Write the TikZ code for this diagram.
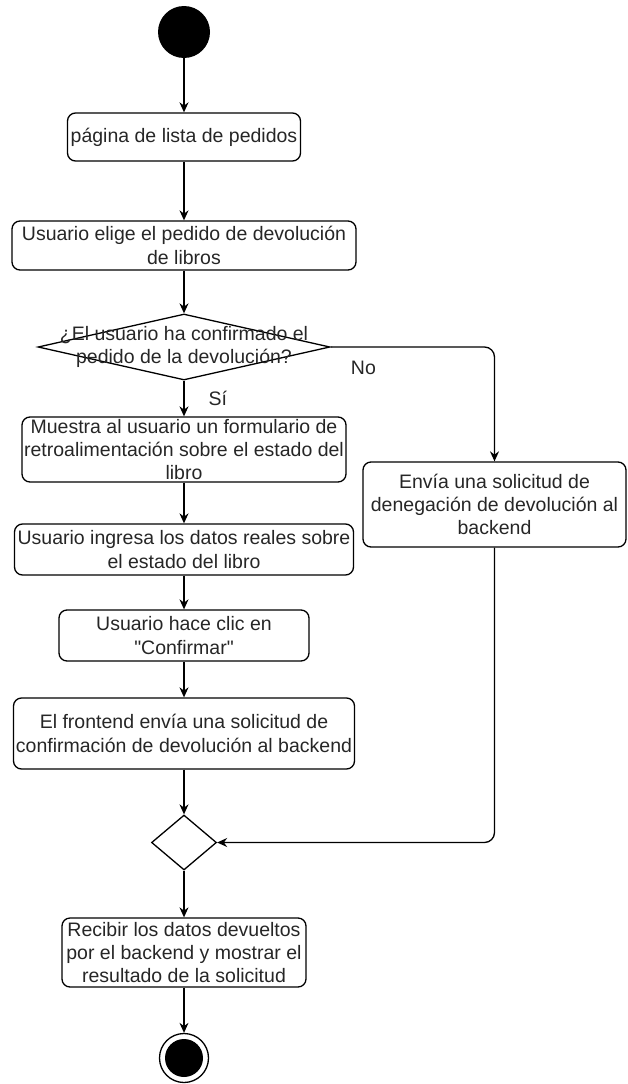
\documentclass[tikz,border=0pt]{standalone}
\usepackage{fontspec}
\setmainfont{Liberation Sans}[Ligatures=TeXOff]
\usetikzlibrary{positioning,arrows.meta,shapes.geometric}

\begin{document}
\begin{tikzpicture}[
  x=1pt, y=-1pt,
  font=\fontsize{19.5}{23.4}\selectfont, >={Stealth[length=10pt,width=9pt]},
  act/.style={draw,rounded corners=8pt,align=center,inner sep=0pt,line width=1.3pt,text=black!85},
  startnode/.style={circle,fill=black,inner sep=0pt,minimum size=52pt},
  endnode/.style={circle,draw,line width=1.3pt,inner sep=0pt,minimum size=49pt,
    path picture={\fill (path picture bounding box.center) circle (19pt);}},
  choice/.style={diamond,draw,line width=1.3pt,inner sep=0pt},
  txt/.style={align=center,inner sep=0pt,text=black!85},
  lbl/.style={inner sep=0pt,text=black!85},
  flow/.style={->,line width=1.3pt},
]
\useasboundingbox (0,0) rectangle (627,1084);
\node[startnode] (start) at (184,32) {};
\node[act,minimum width=233pt,minimum height=48pt] (list) at (184,137) {página de lista de pedidos};
\node[act,minimum width=344pt,minimum height=49pt] (elige) at (184,245.5) {Usuario elige el pedido de devolución\\de libros};
\node[choice,minimum width=292pt,minimum height=66pt] (dec) at (184,347) {};
\node[txt] (dectxt) at (dec) {¿El usuario ha confirmado el\\pedido de la devolución?};
\node[act,minimum width=324pt,minimum height=65pt] (muestra) at (184,449.5) {Muestra al usuario un formulario de\\retroalimentación sobre el estado del\\libro};
\node[act,minimum width=263pt,minimum height=85pt] (envia) at (494.5,504.5) {Envía una solicitud de\\denegación de devolución al\\backend};
\node[act,minimum width=339pt,minimum height=51pt] (ingresa) at (184,549.5) {Usuario ingresa los datos reales sobre\\el estado del libro};
\node[act,minimum width=250pt,minimum height=51pt] (clic) at (184,635.5) {Usuario hace clic en\\"Confirmar"};
\node[act,minimum width=341pt,minimum height=71pt] (front) at (184,733.5) {El frontend envía una solicitud de\\confirmación de devolución al backend};
\node[choice,minimum width=65pt,minimum height=55pt] (merge) at (184,842.5) {};
\node[act,minimum width=244pt,minimum height=69pt] (recibir) at (184,952.5) {Recibir los datos devueltos\\por el backend y mostrar el\\resultado de la solicitud};
\node[endnode] (end) at (184,1058) {};

\draw[flow] (start) -- (list);
\draw[flow] (list) -- (elige);
\draw[flow] (elige) -- (dec);
\draw[flow] (dec) -- node[lbl,right=24pt]{Sí} (muestra);
\draw[flow,rounded corners=10pt] (dec.east) -- node[lbl,pos=0.2,below=13pt]{No} (dec.east -| envia.north) -- (envia.north);
\draw[flow] (muestra) -- (ingresa);
\draw[flow] (ingresa) -- (clic);
\draw[flow] (clic) -- (front);
\draw[flow] (front) -- (merge);
\draw[flow,rounded corners=10pt] (envia.south) -- (envia.south |- merge.east) -- (merge.east);
\draw[flow] (merge) -- (recibir);
\draw[flow] (recibir) -- (end);
\end{tikzpicture}
\end{document}
